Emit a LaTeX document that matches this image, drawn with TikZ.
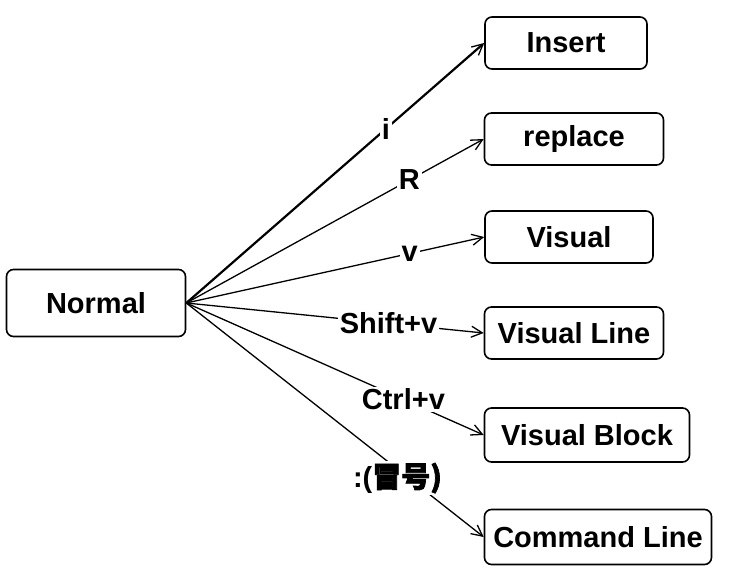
\documentclass[tikz,border=0pt]{standalone}
\usepackage{fontspec}
\setmainfont{Liberation Sans}
\newfontfamily\cjk[FakeBold=2.5]{Noto Sans CJK SC}
\usetikzlibrary{arrows.meta}

\begin{document}
\begin{tikzpicture}[x=1pt,y=-1pt,
    mode/.style={draw,line width=1.6pt,rounded corners=7pt,minimum height=52pt,
      inner sep=0pt,font=\fontsize{29}{32}\selectfont\bfseries},
    trans/.style={line width=1.3pt,-{Straight Barb[length=11pt,width=11pt,line width=1.3pt]}},
    key/.style={fill=white,inner sep=2pt,font=\fontsize{29}{32}\selectfont\bfseries}]
  \useasboundingbox (0,0) rectangle (730,575);
  \node[mode,minimum width=179pt,minimum height=67pt] (normal) at (96,303) {Normal};
  \node[mode,minimum width=162pt] (insert) at (566,43) {Insert};
  \node[mode,minimum width=179pt] (replace) at (574,139) {replace};
  \node[mode,minimum width=168pt] (visual) at (569,237) {Visual};
  \node[mode,minimum width=179pt] (vline) at (574,333) {Visual Line};
  \node[mode,minimum width=205pt,minimum height=54pt] (vblock) at (587,435) {Visual Block};
  \node[mode,minimum width=227pt,minimum height=55pt] (cmdline) at (598,537) {Command Line};
  % transitions out of normal mode
  \draw[trans,line width=2.2pt] (normal.east) -- node[key,pos=0.67] {i} (insert.west);
  \foreach \tgt/\lbl/\p/\dy in {replace/R/0.75/0, visual/v/0.75/0, vline/Shift+v/0.68/0,
      vblock/Ctrl+v/0.73/0, cmdline/{:(\cjk{冒号})}/0.71/-9}{
    \draw[trans] (normal.east) -- node[key,pos=\p,yshift=\dy pt] {\lbl} (\tgt.west);
  }
\end{tikzpicture}
\end{document}
